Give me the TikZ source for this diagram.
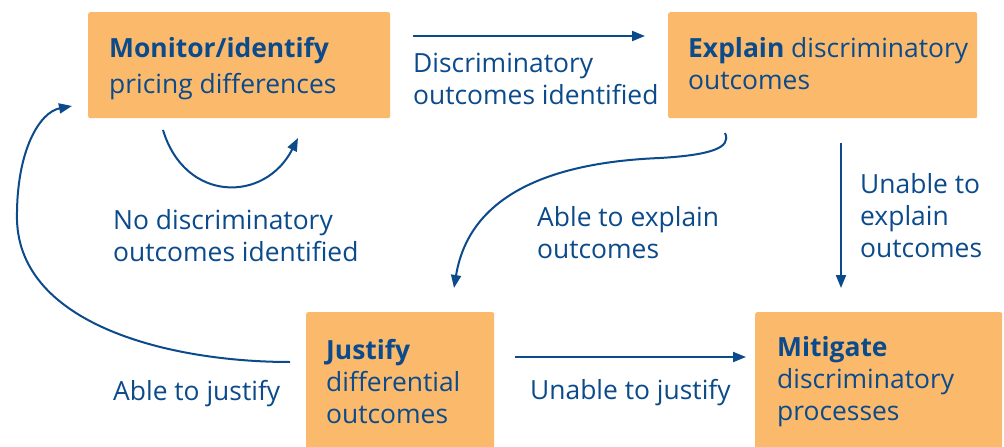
\documentclass[tikz,border=0pt]{standalone}
\usepackage{fontspec}
\setmainfont{Open Sans}
\usetikzlibrary{arrows.meta}
\definecolor{boxorange}{HTML}{FBBA6B}
\definecolor{navy}{HTML}{0B4A8B}
\begin{document}
\begin{tikzpicture}[x=1pt,y=-1pt,
  stagebox/.style={fill=boxorange, rounded corners=2pt, draw=none, inner sep=0pt, anchor=north west},
  lbl/.style={text=navy, align=left, inner sep=0pt, anchor=west, font=\fontsize{26.4}{32}\selectfont},
  flow/.style={draw=navy, line width=2pt, -{Triangle[length=13pt,width=10pt]}}]
\useasboundingbox (0,0) rectangle (1004,447);

% stage boxes
\node[stagebox, minimum width=302pt, minimum height=106pt] (monitor) at (88,12) {};
\node[stagebox, minimum width=309pt, minimum height=106pt] (explain) at (668,12) {};
\node[stagebox, minimum width=188pt, minimum height=140pt] (justify) at (306,312) {};
\node[stagebox, minimum width=247pt, minimum height=140pt] (mitigate) at (755,312) {};

% box texts
\node[lbl, font=\fontsize{26.4}{36}\selectfont] (monitortxt) at ([xshift=21pt,yshift=-3pt]monitor.west) {\textbf{Monitor/identify}\\pricing differences};
\node[lbl] (explaintxt) at ([xshift=20pt,yshift=2pt]explain.west) {\textbf{Explain} discriminatory\\outcomes};
\node[lbl] (justifytxt) at (326,382) {\textbf{Justify}\\differential\\outcomes};
\node[lbl] (mitigatetxt) at (777,382) {\textbf{Mitigate}\\discriminatory\\processes};

% connector labels
\node[lbl] (discrlbl) at (413,79) {Discriminatory\\outcomes identified};
\node[lbl] (nodiscrlbl) at (113,235.5) {No discriminatory\\outcomes identified};
\node[lbl] (ablejustlbl) at (113,394) {Able to justify};
\node[lbl] (unableexpllbl) at (860,216) {Unable to\\explain\\outcomes};
\node[lbl] (ableexpllbl) at (537,232.5) {Able to explain\\outcomes};
\node[lbl] (unablejustlbl) at (530,393) {Unable to justify};

% connector end points
\coordinate (m2e-a) at (413,36);
\coordinate (m2e-b) at (645,36);
\coordinate (loop-a) at (163,130);
\coordinate (loop-b) at (298,138);
\coordinate (e2m-a) at (841,143);
\coordinate (e2m-b) at (841,288);
\coordinate (e2j-a) at (725,133);
\coordinate (e2j-b) at (454,288);
\coordinate (j2m-a) at (515,357);
\coordinate (j2m-b) at (746,357);
\coordinate (j2r-a) at (290,362);
\coordinate (j2r-b) at (72,106);

% connectors
\draw[flow] (m2e-a) -- (m2e-b);
\draw[flow] (loop-a) .. controls (185,203) and (265,203) .. (loop-b);
\draw[flow] (e2m-a) -- (e2m-b);
\draw[flow] (e2j-a) .. controls (732,148) and (710,155) .. (660,158)
                    .. controls (560,162) and (470,190) .. (e2j-b);
\draw[flow] (j2m-a) -- (j2m-b);
\draw[flow] (j2r-a) .. controls (170,362) and (20,325) .. (17,220)
                    .. controls (16,150) and (40,112) .. (j2r-b);
\end{tikzpicture}
\end{document}
